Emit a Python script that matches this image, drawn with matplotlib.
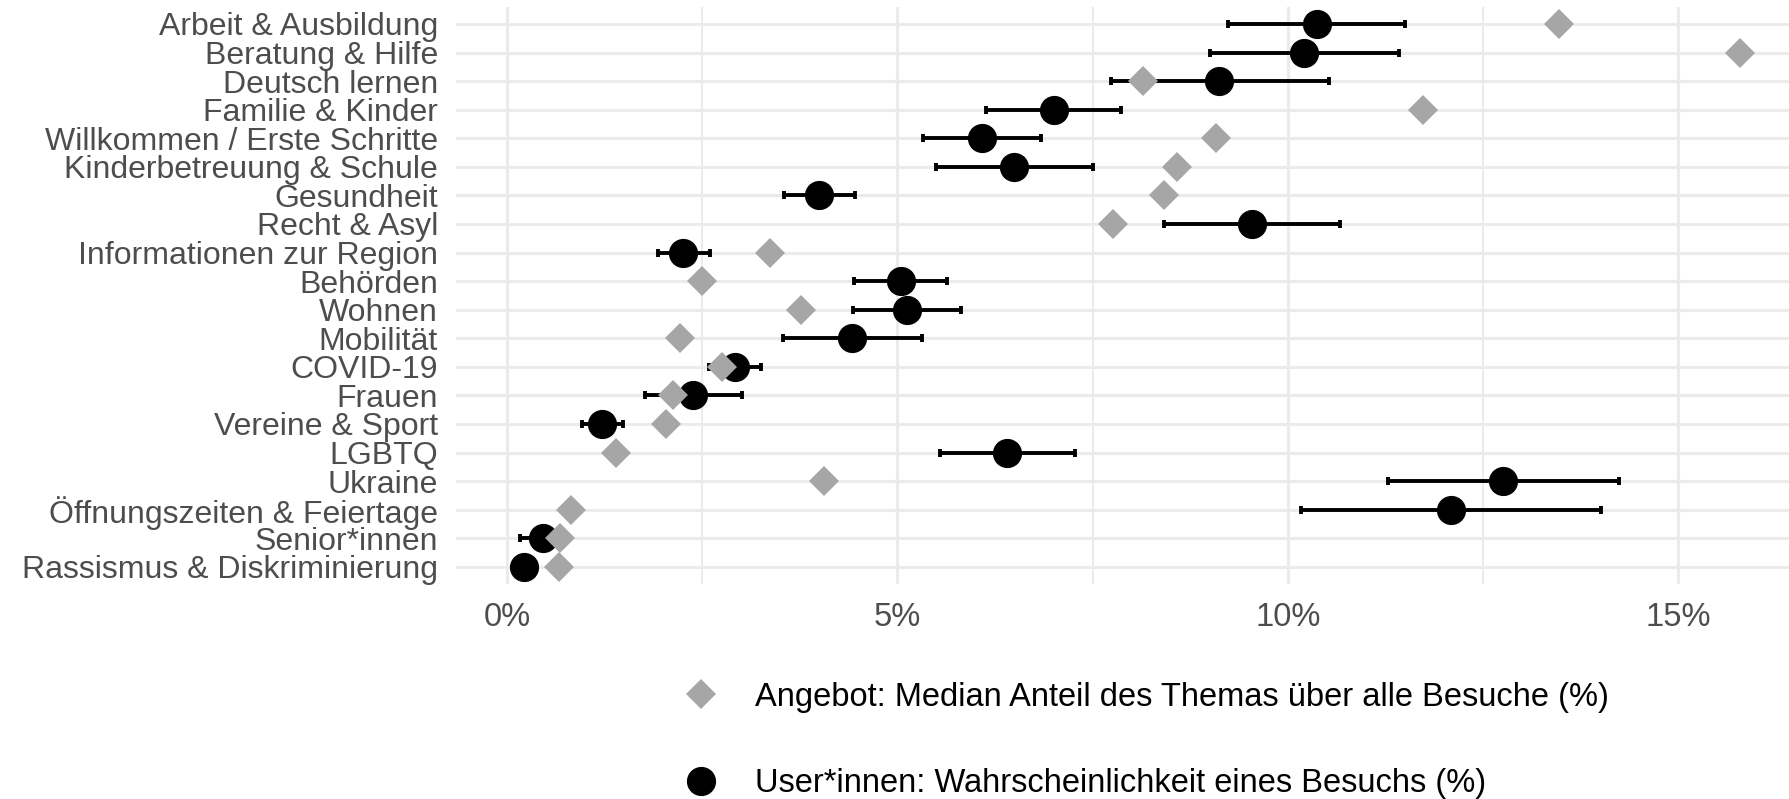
import matplotlib
matplotlib.use('Agg')

from matplotlib import pyplot as plt
from matplotlib.lines import Line2D

plt.rcParams['font.family'] = ['Liberation Sans', 'DejaVu Sans']

# Themen, von oben nach unten
topics = [
    'Arbeit & Ausbildung', 'Beratung & Hilfe', 'Deutsch lernen', 'Familie & Kinder',
    'Willkommen / Erste Schritte', 'Kinderbetreuung & Schule', 'Gesundheit', 'Recht & Asyl',
    'Informationen zur Region', 'Behörden', 'Wohnen', 'Mobilität', 'COVID-19', 'Frauen',
    'Vereine & Sport', 'LGBTQ', 'Ukraine', 'Öffnungszeiten & Feiertage', 'Senior*innen',
    'Rassismus & Diskriminierung',
]

# Angebot: Median Anteil (%)
offer = [13.48, 15.79, 8.15, 11.73, 9.08, 8.58, 8.41, 7.76, 3.37, 2.50,
         3.77, 2.22, 2.76, 2.12, 2.04, 1.40, 4.06, 0.82, 0.68, 0.66]

# User*innen: Wahrscheinlichkeit (%) mit Intervall
user = [10.37, 10.21, 9.12, 7.00, 6.08, 6.50, 4.00, 9.54, 2.26, 5.04,
        5.12, 4.42, 2.92, 2.38, 1.22, 6.40, 12.76, 12.09, 0.46, 0.22]
user_lo = [9.23, 9.01, 7.73, 6.13, 5.33, 5.50, 3.55, 8.41, 1.94, 4.45,
           4.43, 3.54, 2.59, 1.77, 0.96, 5.55, 11.29, 10.17, 0.17, 0.14]
user_hi = [11.50, 11.42, 10.53, 7.86, 6.84, 7.51, 4.46, 10.67, 2.60, 5.64,
           5.81, 5.31, 3.25, 3.01, 1.49, 7.27, 14.24, 14.01, 0.72, 0.30]

x_ticks = [0, 5, 10, 15]
x_ticklabels = ['0%', '5%', '10%', '15%']

label_offer = 'Angebot: Median Anteil des Themas über alle Besuche (%)'
label_user = 'User*innen: Wahrscheinlichkeit eines Besuchs (%)'

FS = 23.5
FS_Y = 23
GRID = '#EBEBEB'
DIAMOND = '#A6A6A6'

fig = plt.figure(figsize=(17.89, 7.99), dpi=100)
ax = fig.add_axes([0.2549, 0.2691, 0.7451, 0.7224])

ypos = list(range(len(topics)))
err = [[u - lo for u, lo in zip(user, user_lo)], [hi - u for u, hi in zip(user, user_hi)]]

ax.errorbar(user, ypos, xerr=err, fmt='none', ecolor='black', elinewidth=2.8,
            capsize=3, capthick=2.8, zorder=3)
ax.plot(user, ypos, 'o', color='black', markersize=20, zorder=4)
ax.plot(offer, ypos, 'D', color=DIAMOND, markersize=15, markeredgewidth=0, zorder=5)

ax.set_xlim(-0.653, 16.42)
ax.set_ylim(19.6, -0.6)
ax.set_xticks(x_ticks)
ax.set_xticklabels(x_ticklabels)
ax.set_xticks([2.5, 7.5, 12.5], minor=True)
ax.set_yticks(ypos)
ax.set_yticklabels(topics)

ax.grid(True, which='major', color=GRID, linewidth=2.2, zorder=0)
ax.grid(True, which='minor', axis='x', color=GRID, linewidth=1.4, zorder=0)
ax.set_axisbelow(True)
for s in ax.spines.values():
    s.set_visible(False)
ax.tick_params(axis='both', which='both', length=0, labelcolor='#4D4D4D')
ax.tick_params(axis='x', labelsize=FS, pad=13)
ax.tick_params(axis='y', labelsize=FS_Y, pad=13)

handles = [
    Line2D([], [], linestyle='none', marker='D', color=DIAMOND, markersize=15, markeredgewidth=0),
    Line2D([], [], linestyle='none', marker='o', color='black', markersize=20),
]
fig.legend(handles, [label_offer, label_user], loc='center left',
           bbox_to_anchor=(684.5 / 1789, 1 - 740.5 / 799), frameon=False,
           fontsize=FS, handlelength=1.0, handletextpad=1.15, labelspacing=1.7,
           borderpad=0, borderaxespad=0)

fig.savefig('out.png', dpi=100)
